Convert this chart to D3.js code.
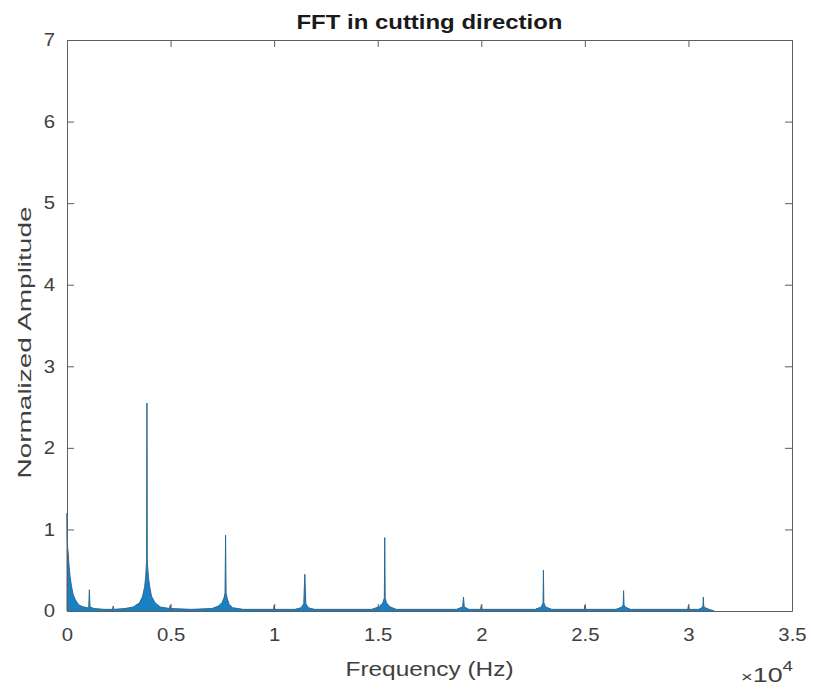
<!DOCTYPE html>
<html>
<head>
<meta charset="utf-8">
<script src="https://cdn.jsdelivr.net/npm/d3@7"></script>
<style>
  html, body { margin: 0; padding: 0; background: #fff; }
  svg { display: block; font-family: "Liberation Sans", Arial, Helvetica, sans-serif; }
</style>
</head>
<body>
<svg id="chart" width="813" height="689"></svg>
<script>
// Spectrum samples: frequency (Hz) and normalized amplitude, traced along the envelope
const freqHz = [
  0, 0, 15, 30, 60, 100, 150, 200, 250, 300, 400, 500, 600, 800, 1000,
  1050, 1080, 1110, 1300, 1800, 2200, 2230, 2260, 2800, 3200, 3500, 3650, 3750, 3800, 3830,
  3845, 3860, 3875, 3890, 3930, 3990, 4080, 4250, 4500, 4950, 4980, 5010, 6000, 7000, 7300,
  7480, 7580, 7630, 7655, 7680, 7730, 7830, 8000, 8500, 9970, 10000, 10030, 11000, 11300, 11430,
  11480, 11530, 11650, 11950, 14700, 15050, 15250, 15320, 15340, 15360, 15420, 15600, 15900, 18800, 19100,
  19140, 19180, 19400, 19970, 20000, 20030, 22600, 22900, 22980, 23000, 23020, 23100, 23400, 24970, 25000,
  25030, 26500, 26800, 26850, 26870, 26890, 26940, 27200, 29970, 30000, 30030, 30500, 30650, 30700, 30720,
  30740, 30800, 31000, 31250
];
const amplitude = [
  0, 1.20, 0.90, 0.78, 0.70, 0.55, 0.42, 0.33, 0.26, 0.20, 0.14, 0.10, 0.07, 0.05, 0.04,
  0.05, 0.26, 0.05, 0.03, 0.02, 0.02, 0.06, 0.02, 0.03, 0.05, 0.10, 0.18, 0.30, 0.42, 0.56,
  0.60, 2.55, 0.60, 0.56, 0.42, 0.30, 0.18, 0.10, 0.05, 0.03, 0.07, 0.03, 0.02, 0.03, 0.06,
  0.10, 0.16, 0.22, 0.93, 0.22, 0.16, 0.08, 0.04, 0.02, 0.02, 0.07, 0.02, 0.02, 0.04, 0.09,
  0.45, 0.09, 0.04, 0.02, 0.02, 0.05, 0.10, 0.16, 0.90, 0.16, 0.10, 0.05, 0.02, 0.02, 0.05,
  0.17, 0.05, 0.02, 0.02, 0.07, 0.02, 0.02, 0.05, 0.10, 0.50, 0.10, 0.05, 0.02, 0.02, 0.07,
  0.02, 0.02, 0.05, 0.08, 0.25, 0.08, 0.05, 0.02, 0.02, 0.07, 0.02, 0.02, 0.04, 0.06, 0.17,
  0.06, 0.04, 0.02, 0.0
];

const xTicks = [0, 0.5e4, 1e4, 1.5e4, 2e4, 2.5e4, 3e4, 3.5e4];
const xTickLabels = ["0", "0.5", "1", "1.5", "2", "2.5", "3", "3.5"];
const yTicks = [0, 1, 2, 3, 4, 5, 6, 7];

const titleText = "FFT in cutting direction";
const xLabelText = "Frequency (Hz)";
const yLabelText = "Normalized Amplitude";

const margin = { left: 67, right: 21, top: 40, bottom: 78 };
const W = 813, H = 689;
const svg = d3.select("#chart");

const x = d3.scaleLinear().domain([0, 3.5e4]).range([margin.left, W - margin.right]);
const y = d3.scaleLinear().domain([0, 7]).range([H - margin.bottom, margin.top]);

const axisColor = "#5e5e5e";
const textColor = "#404040";
const blue = "#0072BD";
const wide = 1.13; // horizontal glyph stretch of the figure's lettering

const pts = freqHz.map((f, i) => [f, amplitude[i]]);

// filled body of the spectrum
svg.append("path")
  .datum(pts)
  .attr("fill", blue)
  .attr("fill-opacity", 0.9)
  .attr("d", d3.area().x(d => x(d[0])).y0(y(0)).y1(d => y(d[1])));

// spectrum trace
svg.append("path")
  .datum(pts)
  .attr("fill", "none")
  .attr("stroke", "#2c6a93")
  .attr("stroke-width", 1)
  .attr("d", d3.line().x(d => x(d[0])).y(d => y(d[1])));

// axes with inward ticks on all four sides
const tickLen = 7;
const gx = svg.append("g").attr("transform", `translate(0,${y(0)})`)
  .call(d3.axisBottom(x).tickValues(xTicks).tickFormat((d, i) => xTickLabels[i]).tickSizeInner(-tickLen).tickSizeOuter(0).tickPadding(17));
const gxTop = svg.append("g").attr("transform", `translate(0,${y(7)})`)
  .call(d3.axisTop(x).tickValues(xTicks).tickFormat("").tickSizeInner(-tickLen).tickSizeOuter(0));
const gy = svg.append("g").attr("transform", `translate(${x(0)},0)`)
  .call(d3.axisLeft(y).tickValues(yTicks).tickFormat(d3.format("d")).tickSizeInner(-tickLen).tickSizeOuter(0).tickPadding(12));
const gyRight = svg.append("g").attr("transform", `translate(${x(3.5e4)},0)`)
  .call(d3.axisRight(y).tickValues(yTicks).tickFormat("").tickSizeInner(-tickLen).tickSizeOuter(0));

[gx, gxTop, gy, gyRight].forEach(g => {
  g.selectAll(".domain").attr("stroke", axisColor).attr("stroke-width", 1);
  g.selectAll(".tick line").attr("stroke", axisColor);
  g.selectAll(".tick text").attr("fill", textColor).style("font-size", "18px")
    .style("font-family", '"Liberation Sans", Arial, sans-serif');
});
// widen the tick labels about their anchors
gx.selectAll(".tick text").attr("transform", `scale(${wide},1)`);
gy.selectAll(".tick text").each(function() {
  const t = d3.select(this);
  const xx = +t.attr("x");
  t.attr("transform", `translate(${xx},0) scale(${wide},1) translate(${-xx},0)`);
});

// title
svg.append("text")
  .attr("x", (x(0) + x(3.5e4)) / 2).attr("y", 29)
  .attr("text-anchor", "middle")
  .attr("fill", "#1a1a1a")
  .attr("textLength", 266).attr("lengthAdjust", "spacingAndGlyphs")
  .style("font-size", "20px").style("font-weight", "bold")
  .text(titleText);

// x label
svg.append("text")
  .attr("x", (x(0) + x(3.5e4)) / 2).attr("y", 676)
  .attr("text-anchor", "middle")
  .attr("fill", textColor)
  .attr("textLength", 168).attr("lengthAdjust", "spacingAndGlyphs")
  .style("font-size", "20px")
  .text(xLabelText);

// exponent marker
const ex = svg.append("text")
  .attr("x", 793).attr("y", 682)
  .attr("text-anchor", "end")
  .attr("fill", textColor)
  .attr("textLength", 52).attr("lengthAdjust", "spacingAndGlyphs")
  .style("font-size", "20px");
ex.append("tspan").text("\u00d7").style("font-size", "15px");
ex.append("tspan").text("10");
ex.append("tspan").text("4").attr("dy", -11).style("font-size", "14px");

// y label
svg.append("text")
  .attr("transform", `translate(31,${(y(0) + y(7)) / 2 + 17}) rotate(-90)`)
  .attr("text-anchor", "middle")
  .attr("fill", textColor)
  .attr("textLength", 272).attr("lengthAdjust", "spacingAndGlyphs")
  .style("font-size", "19px")
  .text(yLabelText);
</script>
</body>
</html>
